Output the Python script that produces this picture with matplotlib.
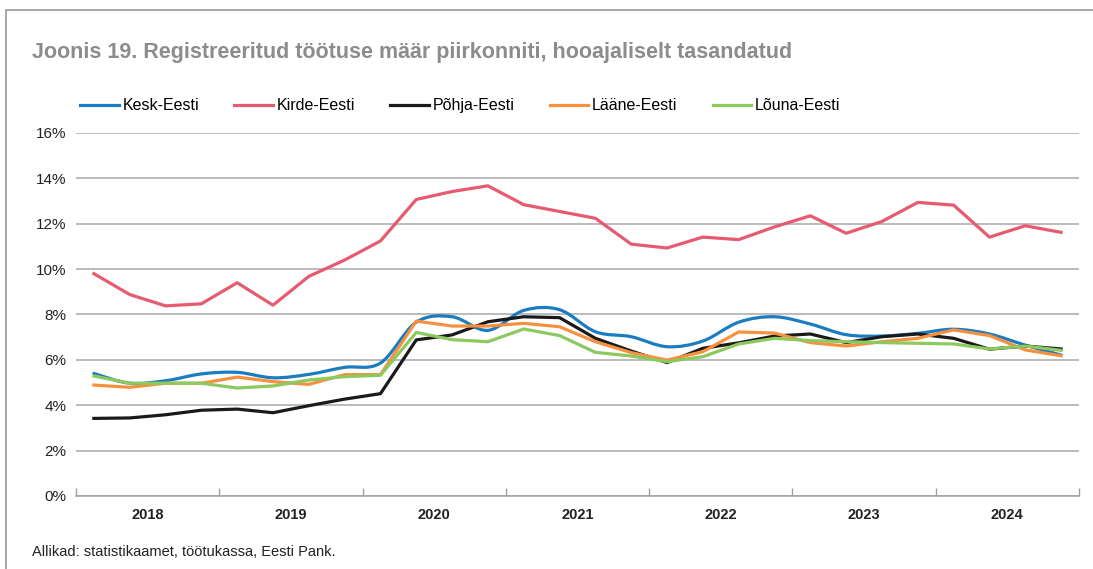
import numpy as np
import matplotlib
matplotlib.use("Agg")
import matplotlib.pyplot as plt
from matplotlib.path import Path
from matplotlib.patches import PathPatch
from matplotlib.lines import Line2D

plt.rcParams['font.family'] = ['Liberation Sans', 'DejaVu Sans']

# kvartalid 2018Q1 ... 2024Q4
years = ['2018', '2019', '2020', '2021', '2022', '2023', '2024']

kesk = [5.40, 4.97, 5.08, 5.38, 5.45, 5.21, 5.36, 5.67, 5.86, 7.66, 7.90, 7.30,
        8.18, 8.21, 7.24, 7.02, 6.58, 6.83, 7.66, 7.90, 7.58, 7.11, 7.05, 7.17,
        7.35, 7.14, 6.65, 6.21]
kirde = [9.80, 8.88, 8.38, 8.47, 9.40, 8.41, 9.68, 10.40, 11.24, 13.07, 13.42, 13.67,
         12.84, 12.54, 12.24, 11.10, 10.93, 11.41, 11.30, 11.86, 12.35, 11.58, 12.10, 12.94,
         12.82, 11.41, 11.91, 11.62]
pohja = [3.42, 3.44, 3.58, 3.78, 3.83, 3.67, 3.98, 4.27, 4.51, 6.88, 7.10, 7.68,
         7.90, 7.86, 6.95, 6.39, 5.88, 6.51, 6.75, 7.05, 7.14, 6.76, 7.02, 7.14,
         6.95, 6.47, 6.61, 6.48]
laane = [4.89, 4.79, 4.97, 4.97, 5.24, 5.04, 4.92, 5.35, 5.35, 7.71, 7.49, 7.49,
         7.61, 7.46, 6.80, 6.32, 5.99, 6.36, 7.23, 7.18, 6.76, 6.61, 6.80, 6.95,
         7.32, 7.07, 6.44, 6.18]
louna = [5.29, 4.97, 4.97, 4.97, 4.76, 4.85, 5.11, 5.26, 5.32, 7.21, 6.89, 6.80,
         7.36, 7.07, 6.33, 6.17, 5.92, 6.14, 6.70, 6.95, 6.85, 6.80, 6.76, 6.73,
         6.70, 6.48, 6.61, 6.42]

series = [
    ('Kesk-Eesti', kesk, '#1b7cc0', True),
    ('Kirde-Eesti', kirde, '#e65b70', False),
    ('Põhja-Eesti', pohja, '#1a1a1a', False),
    ('Lääne-Eesti', laane, '#f7913f', False),
    ('Lõuna-Eesti', louna, '#8cc95f', False),
]


def smooth_path(x, y):
    # Bezier-silumine nagu Excelis
    pts = np.column_stack([x, y])
    n = len(pts)
    verts = [pts[0]]
    codes = [Path.MOVETO]
    for i in range(n - 1):
        p0 = pts[max(i - 1, 0)]
        p1 = pts[i]
        p2 = pts[i + 1]
        p3 = pts[min(i + 2, n - 1)]
        c1 = p1 + (p2 - p0) / 6.0
        c2 = p2 - (p3 - p1) / 6.0
        verts += [c1, c2, p2]
        codes += [Path.CURVE4] * 3
    return Path(verts, codes)


fig = plt.figure(figsize=(10.93, 5.69), dpi=100)
ax = fig.add_axes([0.0695, 0.1283, 0.9177, 0.638])

x = np.arange(len(kesk))
handles = []
for name, vals, col, smooth in series:
    if smooth:
        patch = PathPatch(smooth_path(x, vals), facecolor='none', edgecolor=col,
                          lw=2.3, zorder=3, capstyle='round', joinstyle='round')
        ax.add_patch(patch)
    else:
        ax.plot(x, vals, color=col, lw=2.3, zorder=3, solid_joinstyle='round')
    handles.append(Line2D([], [], color=col, lw=2.3))

ax.set_xlim(-0.5, len(kesk) - 0.5)
ax.set_ylim(0, 16)
ax.set_yticks(range(0, 17, 2))
ax.set_yticklabels([f'{v}%' for v in range(0, 17, 2)], fontsize=11, color='#222222')
ax.yaxis.grid(True, color='#a8a8a8', lw=1.1)
ax.set_axisbelow(True)

ax.set_xticks(np.arange(-0.5, len(kesk), 4))
ax.set_xticklabels([])
ax.set_xticks(np.arange(1.5, len(kesk), 4), minor=True)
ax.set_xticklabels(years, minor=True, fontsize=10.5, fontweight='bold', color='#222222')
ax.tick_params(axis='x', which='major', length=6, color='#a0a0a0', width=1, direction='in')
ax.tick_params(axis='x', which='minor', length=0, pad=9)
ax.tick_params(axis='y', length=0, pad=7)

for s in ['top', 'right', 'left']:
    ax.spines[s].set_visible(False)
ax.spines['bottom'].set_color('#a0a0a0')
ax.spines['bottom'].set_linewidth(1.1)

fig.legend(handles, [s[0] for s in series], loc='center left',
           bbox_to_anchor=(0.0604, 0.814), ncol=5, frameon=False, fontsize=11.5,
           handlelength=2.4, handletextpad=0.25, columnspacing=2.2)

fig.text(0.029, 0.908, 'Joonis 19. Registreeritud töötuse määr piirkonniti, hooajaliselt tasandatud',
         fontsize=15.5, fontweight='bold', color='#8c8c8c', va='center')
fig.text(0.029, 0.030, 'Allikad: statistikaamet, töötukassa, Eesti Pank.',
         fontsize=10.5, color='#222222', va='center')

# raam
fig.add_artist(Line2D([0.0055, 0.0055, 1.0], [0.0, 0.982, 0.982], color='#a0a0a0',
                      lw=1.3, transform=fig.transFigure))

fig.savefig('out.png', dpi=100)
